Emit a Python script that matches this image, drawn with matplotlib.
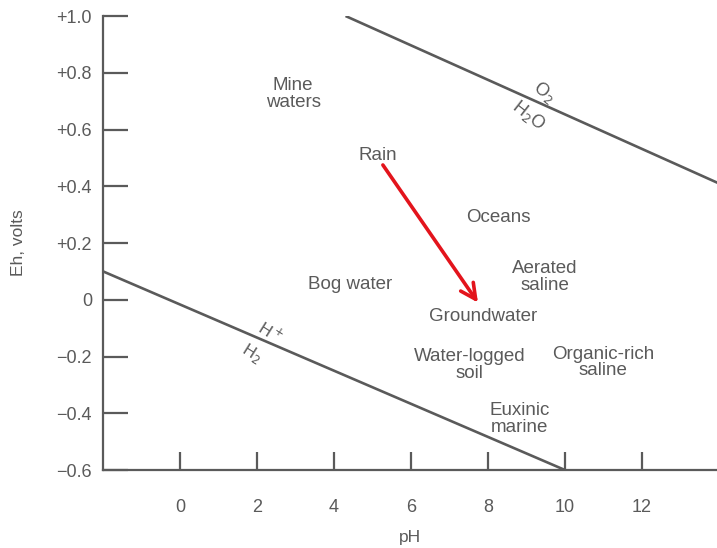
import matplotlib.pyplot as plt

plt.rcParams['font.family'] = ['Liberation Sans', 'DejaVu Sans']

# stability limits of water (pH, Eh)
h2_ph = [-2, 10]
h2_eh = [0.1, -0.6]
o2_ph = [4.3, 14]
o2_eh = [1.0, 0.41]

# environment labels
env_names = ['Mine\nwaters', 'Rain', 'Oceans', 'Aerated\nsaline', 'Bog water',
             'Groundwater', 'Water-logged\nsoil', 'Organic-rich\nsaline',
             'Euxinic\nmarine']
env_ph = [2.94, 5.14, 8.26, 9.48, 4.42, 7.87, 7.53, 10.99, 8.83]
env_eh = [0.725, 0.51, 0.29, 0.08, 0.055, -0.06, -0.23, -0.22, -0.42]

# rain -> groundwater arrow
arrow_ph = [5.27, 7.74]
arrow_eh = [0.475, -0.01]

xticks = [0, 2, 4, 6, 8, 10, 12]
yticks = [1.0, 0.8, 0.6, 0.4, 0.2, 0, -0.2, -0.4, -0.6]
ytick_labels = ['+1.0', '+0.8', '+0.6', '+0.4', '+0.2', '0',
                '\u22120.2', '\u22120.4', '\u22120.6']

grey = '#5a5a5a'

fig = plt.figure(figsize=(7.17, 5.48), dpi=100)
ax = fig.add_axes([0.1437, 0.1423, 0.8563, 0.8285])

ax.plot(h2_ph, h2_eh, color=grey, lw=1.9, solid_capstyle='butt')
ax.plot(o2_ph, o2_eh, color=grey, lw=1.9, solid_capstyle='butt')

for name, px, py in zip(env_names, env_ph, env_eh):
    ax.text(px, py, name, ha='center', va='center', fontsize=13.5,
            color=grey, linespacing=0.95)

ax.annotate('', xy=(arrow_ph[1], arrow_eh[1]), xytext=(arrow_ph[0], arrow_eh[0]),
            arrowprops=dict(arrowstyle='->,head_length=1.1,head_width=0.55',
                            color='#e3141c', lw=2.6, shrinkA=0, shrinkB=0))

# labels on the boundary lines
ax.text(9.45, 0.73, 'O$_2$', rotation=-38, ha='center', va='center',
        fontsize=13, color=grey)
ax.text(9.05, 0.65, 'H$_2$O', rotation=-38, ha='center', va='center',
        fontsize=13, color=grey)
ax.text(2.34, -0.115, 'H$^+$', rotation=-32, ha='center', va='center',
        fontsize=12, color=grey)
ax.text(1.87, -0.19, 'H$_2$', rotation=-32, ha='center', va='center',
        fontsize=12, color=grey)

ax.set_xlim(-2, 13.95)
ax.set_ylim(-0.6, 1.0)
ax.set_xticks(xticks)
ax.set_yticks(yticks)
ax.set_yticklabels(ytick_labels)

ax.spines['top'].set_visible(False)
ax.spines['right'].set_visible(False)
for s in ['left', 'bottom']:
    ax.spines[s].set_color(grey)
    ax.spines[s].set_linewidth(1.6)

ax.tick_params(axis='y', direction='in', length=18, width=1.6, color=grey,
               labelcolor=grey, labelsize=13, pad=8)
ax.tick_params(axis='x', direction='in', length=13, width=1.6, color=grey,
               labelcolor=grey, labelsize=13, pad=21)

ax.set_xlabel('pH', fontsize=12.5, color=grey, labelpad=10)
ax.set_ylabel('Eh, volts', fontsize=12.5, color=grey, labelpad=22)

fig.savefig('out.png', dpi=100)
